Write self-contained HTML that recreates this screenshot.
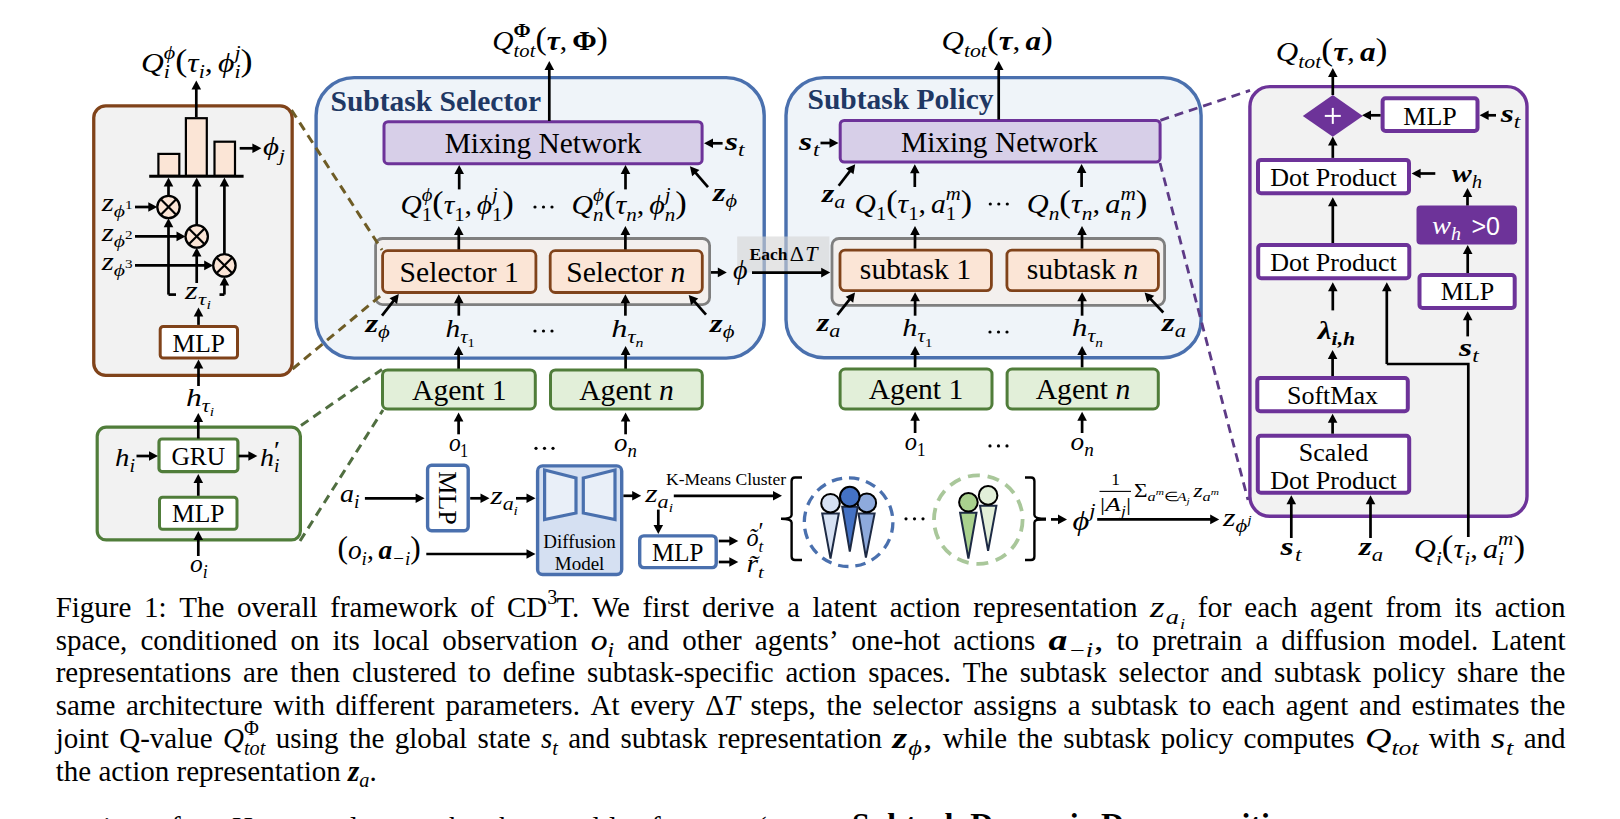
<!DOCTYPE html>
<html><head><meta charset="utf-8"><style>
html,body{margin:0;padding:0;background:#fff;width:1620px;height:819px;overflow:hidden}
svg{display:block}
</style></head><body>
<svg width="1620" height="819" viewBox="0 0 1620 819">
<rect x="0" y="0" width="1620" height="819" fill="#fff"/>
<rect x="93.75" y="105.85" width="198.40" height="269.50" rx="12" fill="#f2f2f2" stroke="#80431a" stroke-width="3.3"/>
<rect x="158.40" y="153.90" width="20.90" height="22.00" rx="0" fill="#fbe5d6" stroke="#000" stroke-width="2.2"/>
<rect x="185.90" y="118.20" width="20.90" height="57.70" rx="0" fill="#fbe5d6" stroke="#000" stroke-width="2.2"/>
<rect x="214.50" y="141.70" width="20.50" height="34.20" rx="0" fill="#fbe5d6" stroke="#000" stroke-width="2.2"/>
<line x1="149.20" y1="176.20" x2="243.60" y2="176.20" stroke="#000" stroke-width="3"/>
<line x1="196.30" y1="117.00" x2="196.30" y2="85.00" stroke="#000" stroke-width="2.7"/>
<polygon points="196.30,80.50 201.10,89.50 191.50,89.50" fill="#000"/>
<text transform="translate(141.00,71.50) scale(1.170,1)" font-size="27.00" font-style="italic" font-weight="normal" font-family="Liberation Serif" fill="#000">Q</text>
<text transform="translate(163.82,77.98) scale(1.170,1)" font-size="18.90" font-style="italic" font-weight="normal" font-family="Liberation Serif" fill="#000">i</text>
<text transform="translate(163.82,59.35) scale(1.170,1)" font-size="18.90" font-style="italic" font-weight="normal" font-family="Liberation Serif" fill="#000">ϕ</text>
<text transform="translate(175.27,70.56) scale(1.170,1)" font-size="31.05" font-style="normal" font-weight="normal" font-family="Liberation Serif" fill="#000">(</text>
<text transform="translate(187.37,71.50) scale(1.170,1)" font-size="27.00" font-style="italic" font-weight="normal" font-family="Liberation Serif" fill="#000">τ</text>
<text transform="translate(198.68,77.98) scale(1.170,1)" font-size="18.90" font-style="italic" font-weight="normal" font-family="Liberation Serif" fill="#000">i</text>
<text transform="translate(204.83,71.50) scale(1.170,1)" font-size="27.00" font-style="normal" font-weight="normal" font-family="Liberation Serif" fill="#000">,</text>
<text transform="translate(218.10,71.50) scale(1.170,1)" font-size="27.00" font-style="italic" font-weight="normal" font-family="Liberation Serif" fill="#000">ϕ</text>
<text transform="translate(234.45,77.98) scale(1.170,1)" font-size="18.90" font-style="italic" font-weight="normal" font-family="Liberation Serif" fill="#000">i</text>
<text transform="translate(234.45,59.35) scale(1.170,1)" font-size="18.90" font-style="italic" font-weight="normal" font-family="Liberation Serif" fill="#000">j</text>
<text transform="translate(240.60,70.56) scale(1.170,1)" font-size="31.05" font-style="normal" font-weight="normal" font-family="Liberation Serif" fill="#000">)</text>
<line x1="239.70" y1="148.30" x2="256.90" y2="148.30" stroke="#000" stroke-width="2.7"/>
<polygon points="261.40,148.30 252.40,153.10 252.40,143.50" fill="#000"/>
<text transform="translate(263.00,155.00) scale(1.236,1)" font-size="25.00" font-style="italic" font-weight="normal" font-family="Liberation Serif" fill="#000">ϕ</text>
<text transform="translate(278.99,161.00) scale(1.236,1)" font-size="17.50" font-style="italic" font-weight="normal" font-family="Liberation Serif" fill="#000">j</text>
<circle cx="168.5" cy="207" r="11.2" fill="#fbe5d6" stroke="#000" stroke-width="2.3"/>
<line x1="160.58" y1="199.08" x2="176.42" y2="214.92" stroke="#000" stroke-width="2.2"/>
<line x1="160.58" y1="214.92" x2="176.42" y2="199.08" stroke="#000" stroke-width="2.2"/>
<circle cx="196.7" cy="236.4" r="11.2" fill="#fbe5d6" stroke="#000" stroke-width="2.3"/>
<line x1="188.78" y1="228.48" x2="204.62" y2="244.32" stroke="#000" stroke-width="2.2"/>
<line x1="188.78" y1="244.32" x2="204.62" y2="228.48" stroke="#000" stroke-width="2.2"/>
<circle cx="224.4" cy="265.4" r="11.2" fill="#fbe5d6" stroke="#000" stroke-width="2.3"/>
<line x1="216.48" y1="257.48" x2="232.32" y2="273.32" stroke="#000" stroke-width="2.2"/>
<line x1="216.48" y1="273.32" x2="232.32" y2="257.48" stroke="#000" stroke-width="2.2"/>
<line x1="168.50" y1="195.80" x2="168.50" y2="182.00" stroke="#000" stroke-width="2.7"/>
<polygon points="168.50,177.50 173.30,186.50 163.70,186.50" fill="#000"/>
<line x1="196.70" y1="225.20" x2="196.70" y2="182.00" stroke="#000" stroke-width="2.7"/>
<polygon points="196.70,177.50 201.50,186.50 191.90,186.50" fill="#000"/>
<line x1="224.40" y1="254.20" x2="224.40" y2="182.00" stroke="#000" stroke-width="2.7"/>
<polygon points="224.40,177.50 229.20,186.50 219.60,186.50" fill="#000"/>
<line x1="135.00" y1="207.00" x2="152.80" y2="207.00" stroke="#000" stroke-width="2.7"/>
<polygon points="157.30,207.00 148.30,211.80 148.30,202.20" fill="#000"/>
<line x1="135.00" y1="236.40" x2="181.00" y2="236.40" stroke="#000" stroke-width="2.7"/>
<polygon points="185.50,236.40 176.50,241.20 176.50,231.60" fill="#000"/>
<line x1="135.00" y1="265.40" x2="208.70" y2="265.40" stroke="#000" stroke-width="2.7"/>
<polygon points="213.20,265.40 204.20,270.20 204.20,260.60" fill="#000"/>
<text transform="translate(101.80,210.60) scale(1.236,1)" font-size="25.00" font-style="italic" font-weight="normal" font-family="Liberation Serif" fill="#000">z</text>
<text transform="translate(113.83,216.60) scale(1.236,1)" font-size="17.50" font-style="italic" font-weight="normal" font-family="Liberation Serif" fill="#000">ϕ</text>
<text transform="translate(125.03,208.72) scale(1.236,1)" font-size="12.25" font-style="normal" font-weight="normal" font-family="Liberation Serif" fill="#000">1</text>
<text transform="translate(101.80,241.00) scale(1.236,1)" font-size="25.00" font-style="italic" font-weight="normal" font-family="Liberation Serif" fill="#000">z</text>
<text transform="translate(113.83,247.00) scale(1.236,1)" font-size="17.50" font-style="italic" font-weight="normal" font-family="Liberation Serif" fill="#000">ϕ</text>
<text transform="translate(125.03,239.12) scale(1.236,1)" font-size="12.25" font-style="normal" font-weight="normal" font-family="Liberation Serif" fill="#000">2</text>
<text transform="translate(101.80,270.00) scale(1.236,1)" font-size="25.00" font-style="italic" font-weight="normal" font-family="Liberation Serif" fill="#000">z</text>
<text transform="translate(113.83,276.00) scale(1.236,1)" font-size="17.50" font-style="italic" font-weight="normal" font-family="Liberation Serif" fill="#000">ϕ</text>
<text transform="translate(125.03,268.12) scale(1.236,1)" font-size="12.25" font-style="normal" font-weight="normal" font-family="Liberation Serif" fill="#000">3</text>
<polyline points="176.00,294.60 168.50,294.60" fill="none" stroke="#000" stroke-width="2.7"/>
<line x1="168.50" y1="294.60" x2="168.50" y2="222.70" stroke="#000" stroke-width="2.7"/>
<polygon points="168.50,218.20 173.30,227.20 163.70,227.20" fill="#000"/>
<line x1="196.70" y1="283.00" x2="196.70" y2="252.10" stroke="#000" stroke-width="2.7"/>
<polygon points="196.70,247.60 201.50,256.60 191.90,256.60" fill="#000"/>
<polyline points="219.50,294.60 224.40,294.60" fill="none" stroke="#000" stroke-width="2.7"/>
<line x1="224.40" y1="294.60" x2="224.40" y2="281.10" stroke="#000" stroke-width="2.7"/>
<polygon points="224.40,276.60 229.20,285.60 219.60,285.60" fill="#000"/>
<text transform="translate(185.00,299.00) scale(1.300,1)" font-size="25.00" font-style="italic" font-weight="normal" font-family="Liberation Serif" fill="#000">z</text>
<text transform="translate(198.00,305.00) scale(1.300,1)" font-size="17.50" font-style="italic" font-weight="normal" font-family="Liberation Serif" fill="#000">τ</text>
<text transform="translate(206.38,309.20) scale(1.300,1)" font-size="12.25" font-style="italic" font-weight="normal" font-family="Liberation Serif" fill="#000">i</text>
<rect x="160.20" y="326.40" width="77.30" height="31.60" rx="3" fill="#fff" stroke="#80431a" stroke-width="3"/>
<text x="198.80" y="351.50" font-size="25.50" font-style="normal" font-weight="normal" font-family="Liberation Serif" fill="#000" text-anchor="middle">MLP</text>
<line x1="198.50" y1="324.90" x2="198.50" y2="311.90" stroke="#000" stroke-width="2.7"/>
<polygon points="198.50,307.40 203.30,316.40 193.70,316.40" fill="#000"/>
<line x1="198.50" y1="386.00" x2="198.50" y2="364.00" stroke="#000" stroke-width="2.7"/>
<polygon points="198.50,359.50 203.30,368.50 193.70,368.50" fill="#000"/>
<text transform="translate(186.00,405.50) scale(1.215,1)" font-size="26.00" font-style="italic" font-weight="normal" font-family="Liberation Serif" fill="#000">h</text>
<text transform="translate(201.79,411.74) scale(1.215,1)" font-size="18.20" font-style="italic" font-weight="normal" font-family="Liberation Serif" fill="#000">τ</text>
<text transform="translate(209.70,416.11) scale(1.215,1)" font-size="12.74" font-style="italic" font-weight="normal" font-family="Liberation Serif" fill="#000">i</text>
<rect x="97.20" y="427.20" width="203.20" height="112.70" rx="9" fill="#f2f2f2" stroke="#507d3a" stroke-width="3.2"/>
<rect x="159.00" y="439.00" width="78.90" height="32.60" rx="3" fill="#fff" stroke="#507d3a" stroke-width="3.2"/>
<rect x="159.50" y="497.30" width="77.50" height="31.90" rx="3" fill="#fff" stroke="#507d3a" stroke-width="3"/>
<text x="198.30" y="464.60" font-size="25.50" font-style="normal" font-weight="normal" font-family="Liberation Serif" fill="#000" text-anchor="middle">GRU</text>
<text x="198.30" y="521.90" font-size="25.50" font-style="normal" font-weight="normal" font-family="Liberation Serif" fill="#000" text-anchor="middle">MLP</text>
<line x1="198.30" y1="438.50" x2="198.30" y2="417.50" stroke="#000" stroke-width="2.7"/>
<polygon points="198.30,413.00 203.10,422.00 193.50,422.00" fill="#000"/>
<line x1="198.30" y1="495.80" x2="198.30" y2="478.50" stroke="#000" stroke-width="2.7"/>
<polygon points="198.30,474.00 203.10,483.00 193.50,483.00" fill="#000"/>
<line x1="198.30" y1="556.00" x2="198.30" y2="535.50" stroke="#000" stroke-width="2.7"/>
<polygon points="198.30,531.00 203.10,540.00 193.50,540.00" fill="#000"/>
<line x1="136.50" y1="456.00" x2="153.50" y2="456.00" stroke="#000" stroke-width="2.7"/>
<polygon points="158.00,456.00 149.00,460.80 149.00,451.20" fill="#000"/>
<line x1="238.60" y1="456.00" x2="252.90" y2="456.00" stroke="#000" stroke-width="2.7"/>
<polygon points="257.40,456.00 248.40,460.80 248.40,451.20" fill="#000"/>
<text transform="translate(115.00,465.50) scale(1.108,1)" font-size="26.00" font-style="italic" font-weight="normal" font-family="Liberation Serif" fill="#000">h</text>
<text transform="translate(129.40,471.74) scale(1.108,1)" font-size="18.20" font-style="italic" font-weight="normal" font-family="Liberation Serif" fill="#000">i</text>
<text transform="translate(260.00,465.50) scale(1.077,1)" font-size="26.00" font-style="italic" font-weight="normal" font-family="Liberation Serif" fill="#000">h</text>
<text transform="translate(274.00,471.74) scale(1.077,1)" font-size="18.20" font-style="italic" font-weight="normal" font-family="Liberation Serif" fill="#000">i</text>
<text transform="translate(274.00,459.26) scale(1.077,1)" font-size="25.48" font-style="normal" font-weight="normal" font-family="Liberation Serif" fill="#000">′</text>
<text transform="translate(190.00,572.00) scale(0.980,1)" font-size="26.00" font-style="italic" font-weight="normal" font-family="Liberation Serif" fill="#000">o</text>
<text transform="translate(202.74,578.24) scale(0.980,1)" font-size="18.20" font-style="italic" font-weight="normal" font-family="Liberation Serif" fill="#000">i</text>
<rect x="316.10" y="77.60" width="448.10" height="280.50" rx="38" fill="#eff4f9" stroke="#4a70ae" stroke-width="3.4"/>
<text x="330.50" y="110.50" font-size="29.50" font-style="normal" font-weight="bold" font-family="Liberation Serif" fill="#1f3864">Subtask Selector</text>
<rect x="384.00" y="121.70" width="318.10" height="42.00" rx="4" fill="#d7cfe8" stroke="#6d3399" stroke-width="3"/>
<text x="543.00" y="152.50" font-size="29.40" font-style="normal" font-weight="normal" font-family="Liberation Serif" fill="#000" text-anchor="middle">Mixing Network</text>
<line x1="549.30" y1="121.00" x2="549.30" y2="65.50" stroke="#000" stroke-width="2.7"/>
<polygon points="549.30,61.00 554.10,70.00 544.50,70.00" fill="#000"/>
<text transform="translate(492.30,50.00) scale(1.053,1)" font-size="28.00" font-style="italic" font-weight="normal" font-family="Liberation Serif" fill="#000">Q</text>
<text transform="translate(513.60,56.72) scale(1.053,1)" font-size="19.60" font-style="italic" font-weight="normal" font-family="Liberation Serif" fill="#000">tot</text>
<text transform="translate(513.60,37.40) scale(1.053,1)" font-size="19.60" font-style="normal" font-weight="bold" font-family="Liberation Serif" fill="#000">Φ</text>
<text transform="translate(535.39,49.02) scale(1.053,1)" font-size="32.20" font-style="normal" font-weight="normal" font-family="Liberation Serif" fill="#000">(</text>
<text transform="translate(546.68,50.00) scale(1.053,1)" font-size="28.00" font-style="italic" font-weight="bold" font-family="Liberation Serif" fill="#000">τ</text>
<text transform="translate(559.77,50.00) scale(1.053,1)" font-size="28.00" font-style="normal" font-weight="normal" font-family="Liberation Serif" fill="#000">,</text>
<text transform="translate(572.16,50.00) scale(1.053,1)" font-size="28.00" font-style="normal" font-weight="bold" font-family="Liberation Serif" fill="#000">Φ</text>
<text transform="translate(596.61,49.02) scale(1.053,1)" font-size="32.20" font-style="normal" font-weight="normal" font-family="Liberation Serif" fill="#000">)</text>
<line x1="722.60" y1="143.30" x2="708.50" y2="143.30" stroke="#000" stroke-width="2.7"/>
<polygon points="704.00,143.30 713.00,138.50 713.00,148.10" fill="#000"/>
<text transform="translate(725.00,149.50) scale(1.292,1)" font-size="26.00" font-style="italic" font-weight="bold" font-family="Liberation Serif" fill="#000">s</text>
<text transform="translate(738.07,155.74) scale(1.292,1)" font-size="18.20" font-style="italic" font-weight="normal" font-family="Liberation Serif" fill="#000">t</text>
<line x1="708.00" y1="187.20" x2="692.85" y2="169.70" stroke="#000" stroke-width="2.7"/>
<polygon points="689.90,166.30 699.42,169.96 692.16,176.25" fill="#000"/>
<text transform="translate(713.00,201.00) scale(1.228,1)" font-size="26.00" font-style="italic" font-weight="bold" font-family="Liberation Serif" fill="#000">z</text>
<text transform="translate(725.43,207.24) scale(1.228,1)" font-size="18.20" font-style="italic" font-weight="normal" font-family="Liberation Serif" fill="#000">ϕ</text>
<line x1="459.20" y1="189.40" x2="459.20" y2="169.50" stroke="#000" stroke-width="2.7"/>
<polygon points="459.20,165.00 464.00,174.00 454.40,174.00" fill="#000"/>
<line x1="625.50" y1="189.40" x2="625.50" y2="169.50" stroke="#000" stroke-width="2.7"/>
<polygon points="625.50,165.00 630.30,174.00 620.70,174.00" fill="#000"/>
<text transform="translate(400.40,214.00) scale(1.052,1)" font-size="28.00" font-style="italic" font-weight="normal" font-family="Liberation Serif" fill="#000">Q</text>
<text transform="translate(421.68,220.72) scale(1.052,1)" font-size="19.60" font-style="normal" font-weight="normal" font-family="Liberation Serif" fill="#000">1</text>
<text transform="translate(421.68,201.40) scale(1.052,1)" font-size="19.60" font-style="italic" font-weight="normal" font-family="Liberation Serif" fill="#000">ϕ</text>
<text transform="translate(432.35,213.02) scale(1.052,1)" font-size="32.20" font-style="normal" font-weight="normal" font-family="Liberation Serif" fill="#000">(</text>
<text transform="translate(443.63,214.00) scale(1.052,1)" font-size="28.00" font-style="italic" font-weight="normal" font-family="Liberation Serif" fill="#000">τ</text>
<text transform="translate(454.17,220.72) scale(1.052,1)" font-size="19.60" font-style="normal" font-weight="normal" font-family="Liberation Serif" fill="#000">1</text>
<text transform="translate(464.49,214.00) scale(1.052,1)" font-size="28.00" font-style="normal" font-weight="normal" font-family="Liberation Serif" fill="#000">,</text>
<text transform="translate(476.86,214.00) scale(1.052,1)" font-size="28.00" font-style="italic" font-weight="normal" font-family="Liberation Serif" fill="#000">ϕ</text>
<text transform="translate(492.11,220.72) scale(1.052,1)" font-size="19.60" font-style="normal" font-weight="normal" font-family="Liberation Serif" fill="#000">1</text>
<text transform="translate(492.11,201.40) scale(1.052,1)" font-size="19.60" font-style="italic" font-weight="normal" font-family="Liberation Serif" fill="#000">j</text>
<text transform="translate(502.42,213.02) scale(1.052,1)" font-size="32.20" font-style="normal" font-weight="normal" font-family="Liberation Serif" fill="#000">)</text>
<text transform="translate(571.40,214.00) scale(1.072,1)" font-size="28.00" font-style="italic" font-weight="normal" font-family="Liberation Serif" fill="#000">Q</text>
<text transform="translate(593.07,220.72) scale(1.072,1)" font-size="19.60" font-style="italic" font-weight="normal" font-family="Liberation Serif" fill="#000">n</text>
<text transform="translate(593.07,201.40) scale(1.072,1)" font-size="19.60" font-style="italic" font-weight="normal" font-family="Liberation Serif" fill="#000">ϕ</text>
<text transform="translate(603.94,213.02) scale(1.072,1)" font-size="32.20" font-style="normal" font-weight="normal" font-family="Liberation Serif" fill="#000">(</text>
<text transform="translate(615.43,214.00) scale(1.072,1)" font-size="28.00" font-style="italic" font-weight="normal" font-family="Liberation Serif" fill="#000">τ</text>
<text transform="translate(626.17,220.72) scale(1.072,1)" font-size="19.60" font-style="italic" font-weight="normal" font-family="Liberation Serif" fill="#000">n</text>
<text transform="translate(636.67,214.00) scale(1.072,1)" font-size="28.00" font-style="normal" font-weight="normal" font-family="Liberation Serif" fill="#000">,</text>
<text transform="translate(649.28,214.00) scale(1.072,1)" font-size="28.00" font-style="italic" font-weight="normal" font-family="Liberation Serif" fill="#000">ϕ</text>
<text transform="translate(664.81,220.72) scale(1.072,1)" font-size="19.60" font-style="italic" font-weight="normal" font-family="Liberation Serif" fill="#000">n</text>
<text transform="translate(664.81,201.40) scale(1.072,1)" font-size="19.60" font-style="italic" font-weight="normal" font-family="Liberation Serif" fill="#000">j</text>
<text transform="translate(675.31,213.02) scale(1.072,1)" font-size="32.20" font-style="normal" font-weight="normal" font-family="Liberation Serif" fill="#000">)</text>
<circle cx="535.00" cy="207.00" r="1.6" fill="#000"/>
<circle cx="543.50" cy="207.00" r="1.6" fill="#000"/>
<circle cx="552.00" cy="207.00" r="1.6" fill="#000"/>
<rect x="375.60" y="238.50" width="334.00" height="66.10" rx="7" fill="#f3f0ee" stroke="#7f7f7f" stroke-width="2.8"/>
<line x1="458.80" y1="250.30" x2="458.80" y2="230.40" stroke="#000" stroke-width="2.7"/>
<polygon points="458.80,225.90 463.60,234.90 454.00,234.90" fill="#000"/>
<line x1="625.40" y1="250.30" x2="625.40" y2="230.40" stroke="#000" stroke-width="2.7"/>
<polygon points="625.40,225.90 630.20,234.90 620.60,234.90" fill="#000"/>
<rect x="382.60" y="250.70" width="153.30" height="41.80" rx="5" fill="#fbe5d6" stroke="#80431a" stroke-width="2.8"/>
<rect x="550.20" y="250.70" width="152.10" height="41.80" rx="5" fill="#fbe5d6" stroke="#80431a" stroke-width="2.8"/>
<text x="459.20" y="281.50" font-size="29.60" font-style="normal" font-weight="normal" font-family="Liberation Serif" fill="#000" text-anchor="middle">Selector 1</text>
<text x="566.21" y="281.50" font-size="29.60" font-style="normal" font-weight="normal" font-family="Liberation Serif" fill="#000">Selector </text>
<text x="670.59" y="281.50" font-size="29.60" font-style="italic" font-weight="normal" font-family="Liberation Serif" fill="#000">n</text>
<line x1="711.00" y1="272.40" x2="722.30" y2="272.40" stroke="#000" stroke-width="2.7"/>
<polygon points="726.80,272.40 717.80,277.20 717.80,267.60" fill="#000"/>
<line x1="382.00" y1="315.70" x2="396.05" y2="297.56" stroke="#000" stroke-width="2.7"/>
<polygon points="398.80,294.00 397.09,304.05 389.49,298.18" fill="#000"/>
<text transform="translate(365.40,331.50) scale(1.249,1)" font-size="26.00" font-style="italic" font-weight="bold" font-family="Liberation Serif" fill="#000">z</text>
<text transform="translate(378.04,337.74) scale(1.249,1)" font-size="18.20" font-style="italic" font-weight="normal" font-family="Liberation Serif" fill="#000">ϕ</text>
<line x1="706.00" y1="314.70" x2="691.67" y2="298.38" stroke="#000" stroke-width="2.7"/>
<polygon points="688.70,295.00 698.25,298.60 691.03,304.93" fill="#000"/>
<text transform="translate(710.00,332.00) scale(1.249,1)" font-size="26.00" font-style="italic" font-weight="bold" font-family="Liberation Serif" fill="#000">z</text>
<text transform="translate(722.64,338.24) scale(1.249,1)" font-size="18.20" font-style="italic" font-weight="normal" font-family="Liberation Serif" fill="#000">ϕ</text>
<line x1="458.80" y1="315.70" x2="458.80" y2="298.70" stroke="#000" stroke-width="2.7"/>
<polygon points="458.80,294.20 463.60,303.20 454.00,303.20" fill="#000"/>
<line x1="625.40" y1="315.70" x2="625.40" y2="298.70" stroke="#000" stroke-width="2.7"/>
<polygon points="625.40,294.20 630.20,303.20 620.60,303.20" fill="#000"/>
<text transform="translate(445.50,336.50) scale(1.132,1)" font-size="26.00" font-style="italic" font-weight="normal" font-family="Liberation Serif" fill="#000">h</text>
<text transform="translate(460.22,342.74) scale(1.132,1)" font-size="18.20" font-style="italic" font-weight="normal" font-family="Liberation Serif" fill="#000">τ</text>
<text transform="translate(467.59,347.11) scale(1.132,1)" font-size="12.74" font-style="normal" font-weight="normal" font-family="Liberation Serif" fill="#000">1</text>
<text transform="translate(611.30,336.50) scale(1.244,1)" font-size="26.00" font-style="italic" font-weight="normal" font-family="Liberation Serif" fill="#000">h</text>
<text transform="translate(627.47,342.74) scale(1.244,1)" font-size="18.20" font-style="italic" font-weight="normal" font-family="Liberation Serif" fill="#000">τ</text>
<text transform="translate(635.58,347.11) scale(1.244,1)" font-size="12.74" font-style="italic" font-weight="normal" font-family="Liberation Serif" fill="#000">n</text>
<circle cx="535.00" cy="331.00" r="1.6" fill="#000"/>
<circle cx="543.50" cy="331.00" r="1.6" fill="#000"/>
<circle cx="552.00" cy="331.00" r="1.6" fill="#000"/>
<line x1="458.60" y1="369.00" x2="458.60" y2="350.50" stroke="#000" stroke-width="2.7"/>
<polygon points="458.60,346.00 463.40,355.00 453.80,355.00" fill="#000"/>
<line x1="625.60" y1="369.00" x2="625.60" y2="350.50" stroke="#000" stroke-width="2.7"/>
<polygon points="625.60,346.00 630.40,355.00 620.80,355.00" fill="#000"/>
<rect x="382.50" y="369.90" width="152.80" height="39.10" rx="5" fill="#e2efd9" stroke="#507d3a" stroke-width="3"/>
<rect x="550.50" y="369.90" width="151.80" height="39.10" rx="5" fill="#e2efd9" stroke="#507d3a" stroke-width="3"/>
<text x="459.30" y="400.10" font-size="29.60" font-style="normal" font-weight="normal" font-family="Liberation Serif" fill="#000" text-anchor="middle">Agent 1</text>
<text x="579.23" y="400.10" font-size="29.60" font-style="normal" font-weight="normal" font-family="Liberation Serif" fill="#000">Agent </text>
<text x="658.97" y="400.10" font-size="29.60" font-style="italic" font-weight="normal" font-family="Liberation Serif" fill="#000">n</text>
<line x1="458.60" y1="434.30" x2="458.60" y2="416.90" stroke="#000" stroke-width="2.7"/>
<polygon points="458.60,412.40 463.40,421.40 453.80,421.40" fill="#000"/>
<line x1="625.60" y1="434.30" x2="625.60" y2="416.90" stroke="#000" stroke-width="2.7"/>
<polygon points="625.60,412.40 630.40,421.40 620.80,421.40" fill="#000"/>
<text transform="translate(448.90,450.50) scale(0.900,1)" font-size="26.00" font-style="italic" font-weight="normal" font-family="Liberation Serif" fill="#000">o</text>
<text transform="translate(460.11,456.74) scale(0.900,1)" font-size="18.20" font-style="normal" font-weight="normal" font-family="Liberation Serif" fill="#000">1</text>
<text transform="translate(614.00,450.50) scale(1.032,1)" font-size="26.00" font-style="italic" font-weight="normal" font-family="Liberation Serif" fill="#000">o</text>
<text transform="translate(627.41,456.74) scale(1.032,1)" font-size="18.20" font-style="italic" font-weight="normal" font-family="Liberation Serif" fill="#000">n</text>
<circle cx="536.00" cy="448.30" r="1.6" fill="#000"/>
<circle cx="544.50" cy="448.30" r="1.6" fill="#000"/>
<circle cx="553.00" cy="448.30" r="1.6" fill="#000"/>
<rect x="786.00" y="77.60" width="415.10" height="280.10" rx="38" fill="#eff4f9" stroke="#4a70ae" stroke-width="3.4"/>
<rect x="737.2" y="236.5" width="92.2" height="36" fill="#d4d4d4" fill-opacity="0.6"/>
<text x="749.50" y="259.70" font-size="17.50" font-style="normal" font-weight="bold" font-family="Liberation Serif" fill="#000">Each</text>
<text x="789.70" y="260.50" font-size="22.00" font-style="normal" font-weight="normal" font-family="Liberation Serif" fill="#000">Δ</text>
<text x="805.20" y="260.50" font-size="22.00" font-style="italic" font-weight="normal" font-family="Liberation Serif" fill="#000">T</text>
<text x="733.00" y="279.00" font-size="28.00" font-style="italic" font-weight="normal" font-family="Liberation Serif" fill="#000">ϕ</text>
<text x="807.50" y="108.50" font-size="29.50" font-style="normal" font-weight="bold" font-family="Liberation Serif" fill="#1f3864">Subtask Policy</text>
<rect x="840.20" y="120.50" width="319.90" height="41.50" rx="4" fill="#d7cfe8" stroke="#6d3399" stroke-width="3"/>
<text x="999.40" y="151.80" font-size="29.40" font-style="normal" font-weight="normal" font-family="Liberation Serif" fill="#000" text-anchor="middle">Mixing Network</text>
<line x1="998.70" y1="119.60" x2="998.70" y2="65.50" stroke="#000" stroke-width="2.7"/>
<polygon points="998.70,61.00 1003.50,70.00 993.90,70.00" fill="#000"/>
<text transform="translate(941.50,50.00) scale(1.108,1)" font-size="28.00" font-style="italic" font-weight="normal" font-family="Liberation Serif" fill="#000">Q</text>
<text transform="translate(963.90,56.72) scale(1.108,1)" font-size="19.60" font-style="italic" font-weight="normal" font-family="Liberation Serif" fill="#000">tot</text>
<text transform="translate(986.83,49.02) scale(1.108,1)" font-size="32.20" font-style="normal" font-weight="normal" font-family="Liberation Serif" fill="#000">(</text>
<text transform="translate(998.71,50.00) scale(1.108,1)" font-size="28.00" font-style="italic" font-weight="bold" font-family="Liberation Serif" fill="#000">τ</text>
<text transform="translate(1012.48,50.00) scale(1.108,1)" font-size="28.00" font-style="normal" font-weight="normal" font-family="Liberation Serif" fill="#000">,</text>
<text transform="translate(1025.51,50.00) scale(1.108,1)" font-size="28.00" font-style="italic" font-weight="bold" font-family="Liberation Serif" fill="#000">a</text>
<text transform="translate(1041.02,49.02) scale(1.108,1)" font-size="32.20" font-style="normal" font-weight="normal" font-family="Liberation Serif" fill="#000">)</text>
<line x1="820.50" y1="143.00" x2="834.00" y2="143.00" stroke="#000" stroke-width="2.7"/>
<polygon points="838.50,143.00 829.50,147.80 829.50,138.20" fill="#000"/>
<text transform="translate(798.90,149.50) scale(1.300,1)" font-size="26.00" font-style="italic" font-weight="bold" font-family="Liberation Serif" fill="#000">s</text>
<text transform="translate(813.03,155.74) scale(1.300,1)" font-size="18.20" font-style="italic" font-weight="normal" font-family="Liberation Serif" fill="#000">t</text>
<line x1="838.70" y1="185.70" x2="852.45" y2="167.86" stroke="#000" stroke-width="2.7"/>
<polygon points="855.20,164.30 853.51,174.36 845.90,168.50" fill="#000"/>
<text transform="translate(822.00,202.00) scale(1.212,1)" font-size="26.00" font-style="italic" font-weight="bold" font-family="Liberation Serif" fill="#000">z</text>
<text transform="translate(834.27,208.24) scale(1.212,1)" font-size="18.20" font-style="italic" font-weight="normal" font-family="Liberation Serif" fill="#000">a</text>
<line x1="914.80" y1="187.00" x2="914.80" y2="168.80" stroke="#000" stroke-width="2.7"/>
<polygon points="914.80,164.30 919.60,173.30 910.00,173.30" fill="#000"/>
<line x1="1081.60" y1="187.00" x2="1081.60" y2="168.50" stroke="#000" stroke-width="2.7"/>
<polygon points="1081.60,164.00 1086.40,173.00 1076.80,173.00" fill="#000"/>
<text transform="translate(854.60,213.00) scale(1.056,1)" font-size="28.00" font-style="italic" font-weight="normal" font-family="Liberation Serif" fill="#000">Q</text>
<text transform="translate(875.95,219.72) scale(1.056,1)" font-size="19.60" font-style="normal" font-weight="normal" font-family="Liberation Serif" fill="#000">1</text>
<text transform="translate(886.29,212.02) scale(1.056,1)" font-size="32.20" font-style="normal" font-weight="normal" font-family="Liberation Serif" fill="#000">(</text>
<text transform="translate(897.61,213.00) scale(1.056,1)" font-size="28.00" font-style="italic" font-weight="normal" font-family="Liberation Serif" fill="#000">τ</text>
<text transform="translate(908.19,219.72) scale(1.056,1)" font-size="19.60" font-style="normal" font-weight="normal" font-family="Liberation Serif" fill="#000">1</text>
<text transform="translate(918.54,213.00) scale(1.056,1)" font-size="28.00" font-style="normal" font-weight="normal" font-family="Liberation Serif" fill="#000">,</text>
<text transform="translate(930.96,213.00) scale(1.056,1)" font-size="28.00" font-style="italic" font-weight="normal" font-family="Liberation Serif" fill="#000">a</text>
<text transform="translate(945.74,219.72) scale(1.056,1)" font-size="19.60" font-style="normal" font-weight="normal" font-family="Liberation Serif" fill="#000">1</text>
<text transform="translate(945.74,200.40) scale(1.056,1)" font-size="19.60" font-style="italic" font-weight="normal" font-family="Liberation Serif" fill="#000">m</text>
<text transform="translate(960.68,212.02) scale(1.056,1)" font-size="32.20" font-style="normal" font-weight="normal" font-family="Liberation Serif" fill="#000">)</text>
<text transform="translate(1026.80,213.00) scale(1.085,1)" font-size="28.00" font-style="italic" font-weight="normal" font-family="Liberation Serif" fill="#000">Q</text>
<text transform="translate(1048.73,219.72) scale(1.085,1)" font-size="19.60" font-style="italic" font-weight="normal" font-family="Liberation Serif" fill="#000">n</text>
<text transform="translate(1059.36,212.02) scale(1.085,1)" font-size="32.20" font-style="normal" font-weight="normal" font-family="Liberation Serif" fill="#000">(</text>
<text transform="translate(1070.99,213.00) scale(1.085,1)" font-size="28.00" font-style="italic" font-weight="normal" font-family="Liberation Serif" fill="#000">τ</text>
<text transform="translate(1081.86,219.72) scale(1.085,1)" font-size="19.60" font-style="italic" font-weight="normal" font-family="Liberation Serif" fill="#000">n</text>
<text transform="translate(1092.48,213.00) scale(1.085,1)" font-size="28.00" font-style="normal" font-weight="normal" font-family="Liberation Serif" fill="#000">,</text>
<text transform="translate(1105.24,213.00) scale(1.085,1)" font-size="28.00" font-style="italic" font-weight="normal" font-family="Liberation Serif" fill="#000">a</text>
<text transform="translate(1120.42,219.72) scale(1.085,1)" font-size="19.60" font-style="italic" font-weight="normal" font-family="Liberation Serif" fill="#000">n</text>
<text transform="translate(1120.42,200.40) scale(1.085,1)" font-size="19.60" font-style="italic" font-weight="normal" font-family="Liberation Serif" fill="#000">m</text>
<text transform="translate(1135.77,212.02) scale(1.085,1)" font-size="32.20" font-style="normal" font-weight="normal" font-family="Liberation Serif" fill="#000">)</text>
<circle cx="990.30" cy="204.00" r="1.6" fill="#000"/>
<circle cx="998.80" cy="204.00" r="1.6" fill="#000"/>
<circle cx="1007.30" cy="204.00" r="1.6" fill="#000"/>
<rect x="832.00" y="238.50" width="332.60" height="66.80" rx="7" fill="#f3f0ee" stroke="#7f7f7f" stroke-width="2.8"/>
<line x1="915.00" y1="248.70" x2="915.00" y2="230.50" stroke="#000" stroke-width="2.7"/>
<polygon points="915.00,226.00 919.80,235.00 910.20,235.00" fill="#000"/>
<line x1="1082.00" y1="248.70" x2="1082.00" y2="230.50" stroke="#000" stroke-width="2.7"/>
<polygon points="1082.00,226.00 1086.80,235.00 1077.20,235.00" fill="#000"/>
<line x1="752.00" y1="272.60" x2="825.70" y2="272.60" stroke="#000" stroke-width="2.7"/>
<polygon points="830.20,272.60 821.20,277.40 821.20,267.80" fill="#000"/>
<rect x="840.00" y="250.10" width="151.40" height="40.50" rx="5" fill="#fbe5d6" stroke="#80431a" stroke-width="2.8"/>
<rect x="1006.90" y="250.10" width="151.50" height="40.50" rx="5" fill="#fbe5d6" stroke="#80431a" stroke-width="2.8"/>
<text x="915.50" y="278.50" font-size="29.70" font-style="normal" font-weight="normal" font-family="Liberation Serif" fill="#000" text-anchor="middle">subtask 1</text>
<text x="1026.81" y="278.50" font-size="29.70" font-style="normal" font-weight="normal" font-family="Liberation Serif" fill="#000">subtask </text>
<text x="1123.34" y="278.50" font-size="29.70" font-style="italic" font-weight="normal" font-family="Liberation Serif" fill="#000">n</text>
<line x1="837.40" y1="314.80" x2="852.20" y2="296.13" stroke="#000" stroke-width="2.7"/>
<polygon points="855.00,292.60 853.17,302.63 845.65,296.67" fill="#000"/>
<text transform="translate(817.00,330.50) scale(1.212,1)" font-size="26.00" font-style="italic" font-weight="bold" font-family="Liberation Serif" fill="#000">z</text>
<text transform="translate(829.27,336.74) scale(1.212,1)" font-size="18.20" font-style="italic" font-weight="normal" font-family="Liberation Serif" fill="#000">a</text>
<line x1="1163.30" y1="312.50" x2="1147.68" y2="295.88" stroke="#000" stroke-width="2.7"/>
<polygon points="1144.60,292.60 1154.26,295.87 1147.27,302.45" fill="#000"/>
<text transform="translate(1162.00,330.50) scale(1.249,1)" font-size="26.00" font-style="italic" font-weight="bold" font-family="Liberation Serif" fill="#000">z</text>
<text transform="translate(1174.64,336.74) scale(1.249,1)" font-size="18.20" font-style="italic" font-weight="normal" font-family="Liberation Serif" fill="#000">a</text>
<line x1="915.10" y1="315.70" x2="915.10" y2="296.80" stroke="#000" stroke-width="2.7"/>
<polygon points="915.10,292.30 919.90,301.30 910.30,301.30" fill="#000"/>
<line x1="1082.10" y1="315.70" x2="1082.10" y2="296.80" stroke="#000" stroke-width="2.7"/>
<polygon points="1082.10,292.30 1086.90,301.30 1077.30,301.30" fill="#000"/>
<text transform="translate(902.30,336.00) scale(1.167,1)" font-size="26.00" font-style="italic" font-weight="normal" font-family="Liberation Serif" fill="#000">h</text>
<text transform="translate(917.47,342.24) scale(1.167,1)" font-size="18.20" font-style="italic" font-weight="normal" font-family="Liberation Serif" fill="#000">τ</text>
<text transform="translate(925.07,346.61) scale(1.167,1)" font-size="12.74" font-style="normal" font-weight="normal" font-family="Liberation Serif" fill="#000">1</text>
<text transform="translate(1071.70,336.00) scale(1.209,1)" font-size="26.00" font-style="italic" font-weight="normal" font-family="Liberation Serif" fill="#000">h</text>
<text transform="translate(1087.42,342.24) scale(1.209,1)" font-size="18.20" font-style="italic" font-weight="normal" font-family="Liberation Serif" fill="#000">τ</text>
<text transform="translate(1095.30,346.61) scale(1.209,1)" font-size="12.74" font-style="italic" font-weight="normal" font-family="Liberation Serif" fill="#000">n</text>
<circle cx="990.00" cy="332.00" r="1.6" fill="#000"/>
<circle cx="998.50" cy="332.00" r="1.6" fill="#000"/>
<circle cx="1007.00" cy="332.00" r="1.6" fill="#000"/>
<line x1="915.10" y1="367.50" x2="915.10" y2="350.50" stroke="#000" stroke-width="2.7"/>
<polygon points="915.10,346.00 919.90,355.00 910.30,355.00" fill="#000"/>
<line x1="1082.10" y1="367.50" x2="1082.10" y2="350.50" stroke="#000" stroke-width="2.7"/>
<polygon points="1082.10,346.00 1086.90,355.00 1077.30,355.00" fill="#000"/>
<rect x="840.10" y="369.00" width="151.90" height="39.90" rx="5" fill="#e2efd9" stroke="#507d3a" stroke-width="3"/>
<rect x="1007.10" y="369.00" width="151.20" height="39.90" rx="5" fill="#e2efd9" stroke="#507d3a" stroke-width="3"/>
<text x="916.00" y="399.00" font-size="29.60" font-style="normal" font-weight="normal" font-family="Liberation Serif" fill="#000" text-anchor="middle">Agent 1</text>
<text x="1035.73" y="399.00" font-size="29.60" font-style="normal" font-weight="normal" font-family="Liberation Serif" fill="#000">Agent </text>
<text x="1115.47" y="399.00" font-size="29.60" font-style="italic" font-weight="normal" font-family="Liberation Serif" fill="#000">n</text>
<line x1="915.10" y1="433.00" x2="915.10" y2="416.30" stroke="#000" stroke-width="2.7"/>
<polygon points="915.10,411.80 919.90,420.80 910.30,420.80" fill="#000"/>
<line x1="1082.10" y1="433.00" x2="1082.10" y2="416.30" stroke="#000" stroke-width="2.7"/>
<polygon points="1082.10,411.80 1086.90,420.80 1077.30,420.80" fill="#000"/>
<text transform="translate(904.70,449.50) scale(0.941,1)" font-size="26.00" font-style="italic" font-weight="normal" font-family="Liberation Serif" fill="#000">o</text>
<text transform="translate(916.94,455.74) scale(0.941,1)" font-size="18.20" font-style="normal" font-weight="normal" font-family="Liberation Serif" fill="#000">1</text>
<text transform="translate(1070.50,449.50) scale(1.050,1)" font-size="26.00" font-style="italic" font-weight="normal" font-family="Liberation Serif" fill="#000">o</text>
<text transform="translate(1084.15,455.74) scale(1.050,1)" font-size="18.20" font-style="italic" font-weight="normal" font-family="Liberation Serif" fill="#000">n</text>
<circle cx="990.00" cy="445.90" r="1.6" fill="#000"/>
<circle cx="998.50" cy="445.90" r="1.6" fill="#000"/>
<circle cx="1007.00" cy="445.90" r="1.6" fill="#000"/>
<rect x="1249.90" y="86.60" width="277.10" height="429.70" rx="20" fill="#f2f2f2" stroke="#6d3399" stroke-width="3.4"/>
<text transform="translate(1275.80,61.00) scale(1.111,1)" font-size="28.00" font-style="italic" font-weight="normal" font-family="Liberation Serif" fill="#000">Q</text>
<text transform="translate(1298.26,67.72) scale(1.111,1)" font-size="19.60" font-style="italic" font-weight="normal" font-family="Liberation Serif" fill="#000">tot</text>
<text transform="translate(1321.25,60.02) scale(1.111,1)" font-size="32.20" font-style="normal" font-weight="normal" font-family="Liberation Serif" fill="#000">(</text>
<text transform="translate(1333.16,61.00) scale(1.111,1)" font-size="28.00" font-style="italic" font-weight="bold" font-family="Liberation Serif" fill="#000">τ</text>
<text transform="translate(1346.97,61.00) scale(1.111,1)" font-size="28.00" font-style="normal" font-weight="normal" font-family="Liberation Serif" fill="#000">,</text>
<text transform="translate(1360.03,61.00) scale(1.111,1)" font-size="28.00" font-style="italic" font-weight="bold" font-family="Liberation Serif" fill="#000">a</text>
<text transform="translate(1375.59,60.02) scale(1.111,1)" font-size="32.20" font-style="normal" font-weight="normal" font-family="Liberation Serif" fill="#000">)</text>
<line x1="1332.80" y1="95.00" x2="1332.80" y2="72.50" stroke="#000" stroke-width="2.7"/>
<polygon points="1332.80,68.00 1337.60,77.00 1328.00,77.00" fill="#000"/>
<polygon points="1332.8,95 1362.8,115.9 1332.8,136.8 1302.8,115.9" fill="#6d3399"/>
<line x1="1324.80" y1="115.90" x2="1340.80" y2="115.90" stroke="#fff" stroke-width="2"/>
<line x1="1332.80" y1="107.90" x2="1332.80" y2="123.90" stroke="#fff" stroke-width="2"/>
<rect x="1382.60" y="98.30" width="94.90" height="32.70" rx="3" fill="#fff" stroke="#6d3399" stroke-width="4"/>
<text x="1430.00" y="124.70" font-size="26.00" font-style="normal" font-weight="normal" font-family="Liberation Serif" fill="#000" text-anchor="middle">MLP</text>
<line x1="1380.60" y1="115.30" x2="1366.50" y2="115.30" stroke="#000" stroke-width="2.7"/>
<polygon points="1362.00,115.30 1371.00,110.50 1371.00,120.10" fill="#000"/>
<line x1="1496.00" y1="115.30" x2="1484.10" y2="115.30" stroke="#000" stroke-width="2.7"/>
<polygon points="1479.60,115.30 1488.60,110.50 1488.60,120.10" fill="#000"/>
<text transform="translate(1500.70,121.50) scale(1.292,1)" font-size="26.00" font-style="italic" font-weight="bold" font-family="Liberation Serif" fill="#000">s</text>
<text transform="translate(1513.77,127.74) scale(1.292,1)" font-size="18.20" font-style="italic" font-weight="normal" font-family="Liberation Serif" fill="#000">t</text>
<rect x="1258.00" y="159.90" width="151.00" height="33.30" rx="3" fill="#fff" stroke="#6d3399" stroke-width="4"/>
<text x="1333.50" y="185.50" font-size="26.00" font-style="normal" font-weight="normal" font-family="Liberation Serif" fill="#000" text-anchor="middle">Dot Product</text>
<line x1="1332.80" y1="157.90" x2="1332.80" y2="140.90" stroke="#000" stroke-width="2.7"/>
<polygon points="1332.80,136.40 1337.60,145.40 1328.00,145.40" fill="#000"/>
<line x1="1435.30" y1="173.50" x2="1416.10" y2="173.50" stroke="#000" stroke-width="2.7"/>
<polygon points="1411.60,173.50 1420.60,168.70 1420.60,178.30" fill="#000"/>
<text transform="translate(1452.00,182.00) scale(1.135,1)" font-size="26.00" font-style="italic" font-weight="bold" font-family="Liberation Serif" fill="#000">w</text>
<text transform="translate(1471.68,188.24) scale(1.135,1)" font-size="18.20" font-style="italic" font-weight="normal" font-family="Liberation Serif" fill="#000">h</text>
<line x1="1467.50" y1="205.70" x2="1467.50" y2="192.50" stroke="#000" stroke-width="2.7"/>
<polygon points="1467.50,188.00 1472.30,197.00 1462.70,197.00" fill="#000"/>
<rect x="1416.50" y="205.60" width="100.60" height="38.80" rx="4" fill="#6d3399" stroke="none" stroke-width="0"/>
<text transform="translate(1432.00,233.50) scale(1.097,1)" font-size="26.00" font-style="italic" font-weight="normal" font-family="Liberation Serif" fill="#fff">w</text>
<text transform="translate(1451.02,239.74) scale(1.097,1)" font-size="18.20" font-style="italic" font-weight="normal" font-family="Liberation Serif" fill="#fff">h</text>
<text x="1471.50" y="235.00" font-size="25.00" font-style="normal" font-weight="normal" font-family="Liberation Sans" fill="#fff">&gt;0</text>
<rect x="1258.20" y="245.00" width="151.10" height="33.30" rx="3" fill="#fff" stroke="#6d3399" stroke-width="4"/>
<text x="1333.50" y="271.00" font-size="26.00" font-style="normal" font-weight="normal" font-family="Liberation Serif" fill="#000" text-anchor="middle">Dot Product</text>
<line x1="1332.80" y1="243.00" x2="1332.80" y2="201.80" stroke="#000" stroke-width="2.7"/>
<polygon points="1332.80,197.30 1337.60,206.30 1328.00,206.30" fill="#000"/>
<line x1="1332.80" y1="310.40" x2="1332.80" y2="286.70" stroke="#000" stroke-width="2.7"/>
<polygon points="1332.80,282.20 1337.60,291.20 1328.00,291.20" fill="#000"/>
<text transform="translate(1317.80,339.00) scale(1.196,1)" font-size="26.00" font-style="italic" font-weight="bold" font-family="Liberation Serif" fill="#000">λ</text>
<text transform="translate(1331.60,345.24) scale(1.196,1)" font-size="18.20" font-style="italic" font-weight="bold" font-family="Liberation Serif" fill="#000">i,h</text>
<line x1="1332.60" y1="376.00" x2="1332.60" y2="354.50" stroke="#000" stroke-width="2.7"/>
<polygon points="1332.60,350.00 1337.40,359.00 1327.80,359.00" fill="#000"/>
<rect x="1419.50" y="275.00" width="95.20" height="33.00" rx="3" fill="#fff" stroke="#6d3399" stroke-width="4"/>
<text x="1467.50" y="300.00" font-size="26.00" font-style="normal" font-weight="normal" font-family="Liberation Serif" fill="#000" text-anchor="middle">MLP</text>
<line x1="1467.70" y1="273.00" x2="1467.70" y2="249.50" stroke="#000" stroke-width="2.7"/>
<polygon points="1467.70,245.00 1472.50,254.00 1462.90,254.00" fill="#000"/>
<line x1="1467.70" y1="336.40" x2="1467.70" y2="315.70" stroke="#000" stroke-width="2.7"/>
<polygon points="1467.70,311.20 1472.50,320.20 1462.90,320.20" fill="#000"/>
<text transform="translate(1459.00,355.50) scale(1.298,1)" font-size="26.00" font-style="italic" font-weight="bold" font-family="Liberation Serif" fill="#000">s</text>
<text transform="translate(1472.14,361.74) scale(1.298,1)" font-size="18.20" font-style="italic" font-weight="normal" font-family="Liberation Serif" fill="#000">t</text>
<rect x="1257.30" y="378.10" width="150.50" height="33.10" rx="3" fill="#fff" stroke="#6d3399" stroke-width="4"/>
<text x="1332.50" y="403.50" font-size="26.00" font-style="normal" font-weight="normal" font-family="Liberation Serif" fill="#000" text-anchor="middle">SoftMax</text>
<rect x="1257.80" y="435.70" width="151.40" height="57.00" rx="3" fill="#fff" stroke="#6d3399" stroke-width="4"/>
<text x="1333.50" y="460.50" font-size="26.00" font-style="normal" font-weight="normal" font-family="Liberation Serif" fill="#000" text-anchor="middle">Scaled</text>
<text x="1333.50" y="488.50" font-size="26.00" font-style="normal" font-weight="normal" font-family="Liberation Serif" fill="#000" text-anchor="middle">Dot Product</text>
<line x1="1332.60" y1="433.70" x2="1332.60" y2="418.30" stroke="#000" stroke-width="2.7"/>
<polygon points="1332.60,413.80 1337.40,422.80 1327.80,422.80" fill="#000"/>
<line x1="1291.30" y1="538.00" x2="1291.30" y2="499.70" stroke="#000" stroke-width="2.7"/>
<polygon points="1291.30,495.20 1296.10,504.20 1286.50,504.20" fill="#000"/>
<line x1="1370.50" y1="538.00" x2="1370.50" y2="499.70" stroke="#000" stroke-width="2.7"/>
<polygon points="1370.50,495.20 1375.30,504.20 1365.70,504.20" fill="#000"/>
<polyline points="1468.30,537.00 1468.30,364.00 1386.80,364.00" fill="none" stroke="#000" stroke-width="2.7"/>
<line x1="1386.80" y1="364.00" x2="1386.80" y2="286.70" stroke="#000" stroke-width="2.7"/>
<polygon points="1386.80,282.20 1391.60,291.20 1382.00,291.20" fill="#000"/>
<text transform="translate(1280.60,555.00) scale(1.300,1)" font-size="26.00" font-style="italic" font-weight="bold" font-family="Liberation Serif" fill="#000">s</text>
<text transform="translate(1295.03,561.24) scale(1.300,1)" font-size="18.20" font-style="italic" font-weight="normal" font-family="Liberation Serif" fill="#000">t</text>
<text transform="translate(1359.00,555.00) scale(1.249,1)" font-size="26.00" font-style="italic" font-weight="bold" font-family="Liberation Serif" fill="#000">z</text>
<text transform="translate(1371.64,561.24) scale(1.249,1)" font-size="18.20" font-style="italic" font-weight="normal" font-family="Liberation Serif" fill="#000">a</text>
<text transform="translate(1414.00,558.00) scale(1.083,1)" font-size="28.00" font-style="italic" font-weight="normal" font-family="Liberation Serif" fill="#000">Q</text>
<text transform="translate(1435.90,564.72) scale(1.083,1)" font-size="19.60" font-style="italic" font-weight="normal" font-family="Liberation Serif" fill="#000">i</text>
<text transform="translate(1441.80,557.02) scale(1.083,1)" font-size="32.20" font-style="normal" font-weight="normal" font-family="Liberation Serif" fill="#000">(</text>
<text transform="translate(1453.41,558.00) scale(1.083,1)" font-size="28.00" font-style="italic" font-weight="normal" font-family="Liberation Serif" fill="#000">τ</text>
<text transform="translate(1464.26,564.72) scale(1.083,1)" font-size="19.60" font-style="italic" font-weight="normal" font-family="Liberation Serif" fill="#000">i</text>
<text transform="translate(1470.16,558.00) scale(1.083,1)" font-size="28.00" font-style="normal" font-weight="normal" font-family="Liberation Serif" fill="#000">,</text>
<text transform="translate(1482.90,558.00) scale(1.083,1)" font-size="28.00" font-style="italic" font-weight="normal" font-family="Liberation Serif" fill="#000">a</text>
<text transform="translate(1498.06,564.72) scale(1.083,1)" font-size="19.60" font-style="italic" font-weight="normal" font-family="Liberation Serif" fill="#000">i</text>
<text transform="translate(1498.06,545.40) scale(1.083,1)" font-size="19.60" font-style="italic" font-weight="normal" font-family="Liberation Serif" fill="#000">m</text>
<text transform="translate(1513.39,557.02) scale(1.083,1)" font-size="32.20" font-style="normal" font-weight="normal" font-family="Liberation Serif" fill="#000">)</text>
<text transform="translate(340.00,502.00) scale(1.074,1)" font-size="26.00" font-style="italic" font-weight="normal" font-family="Liberation Serif" fill="#000">a</text>
<text transform="translate(353.97,508.24) scale(1.074,1)" font-size="18.20" font-style="italic" font-weight="normal" font-family="Liberation Serif" fill="#000">i</text>
<line x1="364.90" y1="498.30" x2="420.10" y2="498.30" stroke="#000" stroke-width="2.7"/>
<polygon points="424.60,498.30 415.60,503.10 415.60,493.50" fill="#000"/>
<rect x="427.60" y="465.20" width="40.60" height="65.60" rx="4" fill="#fff" stroke="#4a70ae" stroke-width="3.4"/>
<text x="0" y="0" font-size="26" font-family="Liberation Serif" fill="#000" text-anchor="middle" transform="translate(438.5,498) rotate(90)">MLP</text>
<line x1="470.20" y1="498.30" x2="485.00" y2="498.30" stroke="#000" stroke-width="2.7"/>
<polygon points="489.50,498.30 480.50,503.10 480.50,493.50" fill="#000"/>
<text transform="translate(490.40,504.00) scale(1.208,1)" font-size="26.00" font-style="italic" font-weight="normal" font-family="Liberation Serif" fill="#000">z</text>
<text transform="translate(502.63,510.24) scale(1.208,1)" font-size="18.20" font-style="italic" font-weight="normal" font-family="Liberation Serif" fill="#000">a</text>
<text transform="translate(513.62,514.61) scale(1.208,1)" font-size="12.74" font-style="italic" font-weight="normal" font-family="Liberation Serif" fill="#000">i</text>
<line x1="516.00" y1="498.30" x2="531.00" y2="498.30" stroke="#000" stroke-width="2.7"/>
<polygon points="535.50,498.30 526.50,503.10 526.50,493.50" fill="#000"/>
<text transform="translate(337.40,558.05) scale(1.014,1)" font-size="31.05" font-style="normal" font-weight="normal" font-family="Liberation Serif" fill="#000">(</text>
<text transform="translate(347.88,559.00) scale(1.014,1)" font-size="27.00" font-style="italic" font-weight="normal" font-family="Liberation Serif" fill="#000">o</text>
<text transform="translate(361.57,565.48) scale(1.014,1)" font-size="18.90" font-style="italic" font-weight="normal" font-family="Liberation Serif" fill="#000">i</text>
<text transform="translate(366.89,559.00) scale(1.014,1)" font-size="27.00" font-style="normal" font-weight="normal" font-family="Liberation Serif" fill="#000">,</text>
<text transform="translate(378.38,559.00) scale(1.014,1)" font-size="27.00" font-style="italic" font-weight="bold" font-family="Liberation Serif" fill="#000">a</text>
<text transform="translate(392.07,565.48) scale(1.014,1)" font-size="18.90" font-style="italic" font-weight="normal" font-family="Liberation Serif" fill="#000">−i</text>
<text transform="translate(410.32,558.05) scale(1.014,1)" font-size="31.05" font-style="normal" font-weight="normal" font-family="Liberation Serif" fill="#000">)</text>
<line x1="426.30" y1="554.00" x2="531.00" y2="554.00" stroke="#000" stroke-width="2.7"/>
<polygon points="535.50,554.00 526.50,558.80 526.50,549.20" fill="#000"/>
<rect x="537.60" y="465.90" width="84.10" height="108.60" rx="5" fill="#d5e0f2" stroke="#4a70ae" stroke-width="3.4"/>
<polygon points="544.6,470 576,478 576,513 544.6,519.5" fill="#e9eff8" stroke="#4a70ae" stroke-width="3.2" stroke-linejoin="miter"/>
<polygon points="583.3,478 615,470 615,519.5 583.3,513" fill="#e9eff8" stroke="#4a70ae" stroke-width="3.2" stroke-linejoin="miter"/>
<text x="579.60" y="547.60" font-size="19.00" font-style="normal" font-weight="normal" font-family="Liberation Serif" fill="#000" text-anchor="middle">Diffusion</text>
<text x="579.60" y="570.00" font-size="19.00" font-style="normal" font-weight="normal" font-family="Liberation Serif" fill="#000" text-anchor="middle">Model</text>
<line x1="623.40" y1="495.80" x2="636.70" y2="495.80" stroke="#000" stroke-width="2.7"/>
<polygon points="641.20,495.80 632.20,500.60 632.20,491.00" fill="#000"/>
<text transform="translate(645.30,501.50) scale(1.217,1)" font-size="26.00" font-style="italic" font-weight="normal" font-family="Liberation Serif" fill="#000">z</text>
<text transform="translate(657.62,507.74) scale(1.217,1)" font-size="18.20" font-style="italic" font-weight="normal" font-family="Liberation Serif" fill="#000">a</text>
<text transform="translate(668.69,512.11) scale(1.217,1)" font-size="12.74" font-style="italic" font-weight="normal" font-family="Liberation Serif" fill="#000">i</text>
<line x1="673.80" y1="495.80" x2="777.50" y2="495.80" stroke="#000" stroke-width="2.7"/>
<polygon points="782.00,495.80 773.00,500.60 773.00,491.00" fill="#000"/>
<text x="666.00" y="484.60" font-size="17.50" font-style="normal" font-weight="normal" font-family="Liberation Serif" fill="#000">K-Means Cluster</text>
<line x1="658.30" y1="509.60" x2="658.30" y2="529.50" stroke="#000" stroke-width="2.7"/>
<polygon points="658.30,534.00 653.50,525.00 663.10,525.00" fill="#000"/>
<rect x="639.70" y="535.90" width="76.50" height="31.70" rx="4" fill="#fff" stroke="#4a70ae" stroke-width="3.4"/>
<text x="677.70" y="560.60" font-size="25.00" font-style="normal" font-weight="normal" font-family="Liberation Serif" fill="#000" text-anchor="middle">MLP</text>
<line x1="718.80" y1="541.00" x2="733.80" y2="541.00" stroke="#000" stroke-width="2.7"/>
<polygon points="738.30,541.00 729.30,545.80 729.30,536.20" fill="#000"/>
<line x1="718.80" y1="562.00" x2="733.80" y2="562.00" stroke="#000" stroke-width="2.7"/>
<polygon points="738.30,562.00 729.30,566.80 729.30,557.20" fill="#000"/>
<text transform="translate(746.40,546.00) scale(0.969,1)" font-size="25.00" font-style="italic" font-weight="normal" font-family="Liberation Serif" fill="#000">õ</text>
<text transform="translate(758.51,552.00) scale(0.969,1)" font-size="17.50" font-style="italic" font-weight="normal" font-family="Liberation Serif" fill="#000">t</text>
<text transform="translate(758.51,540.00) scale(0.969,1)" font-size="24.50" font-style="normal" font-weight="normal" font-family="Liberation Serif" fill="#000">′</text>
<text transform="translate(746.40,572.00) scale(1.186,1)" font-size="25.00" font-style="italic" font-weight="normal" font-family="Liberation Serif" fill="#000">r̃</text>
<text transform="translate(757.94,578.00) scale(1.186,1)" font-size="17.50" font-style="italic" font-weight="normal" font-family="Liberation Serif" fill="#000">t</text>
<path d="M802,477.5 H795 Q791.6,477.5 791.6,481 V515 Q791.6,518.8 781,518.8 Q791.6,518.8 791.6,522.5 V556.5 Q791.6,560 795,560 H802" fill="none" stroke="#000" stroke-width="2.4"/>
<path d="M1025,477.5 H1031 Q1034.4,477.5 1034.4,481 V515 Q1034.4,518.8 1046,518.8 Q1034.4,518.8 1034.4,522.5 V556.5 Q1034.4,560 1031,560 H1025" fill="none" stroke="#000" stroke-width="2.4"/>
<circle cx="848.6" cy="522.2" r="44.3" fill="none" stroke="#4a70ae" stroke-width="3.3" stroke-dasharray="10.5,6.9"/>
<circle cx="978.3" cy="519.6" r="44.3" fill="none" stroke="#a9c79a" stroke-width="3.8" stroke-dasharray="12,7.8"/>
<polygon points="822.2,513.6 838.8,513.6 830.5,558.5" fill="#d6e1f3" stroke="#1d2a44" stroke-width="2"/>
<circle cx="830.5" cy="503.2" r="9.3" fill="#d6e1f3" stroke="#000" stroke-width="2"/>
<polygon points="858.5,513.6 874.6,513.6 865.9,557.6" fill="#8eaadc" stroke="#1d2a44" stroke-width="2"/>
<circle cx="866.8" cy="502.9" r="9.3" fill="#8eaadc" stroke="#000" stroke-width="2"/>
<polygon points="842.2,506.7 857.8,506.7 849.8,551.6" fill="#4472c4" stroke="#1d2a44" stroke-width="2"/>
<circle cx="849.8" cy="496.6" r="9.8" fill="#4472c4" stroke="#000" stroke-width="2"/>
<polygon points="980,505.8 996.4,505.8 988.1,550.7" fill="#e2efd9" stroke="#1d2a44" stroke-width="2"/>
<circle cx="988.1" cy="495.4" r="9.3" fill="#e2efd9" stroke="#000" stroke-width="2"/>
<polygon points="960.1,512.7 976.5,512.7 968.4,558.5" fill="#a9d18e" stroke="#1d2a44" stroke-width="2"/>
<circle cx="968.4" cy="502.3" r="9.3" fill="#a9d18e" stroke="#000" stroke-width="2"/>
<circle cx="906.00" cy="518.80" r="1.6" fill="#000"/>
<circle cx="914.50" cy="518.80" r="1.6" fill="#000"/>
<circle cx="923.00" cy="518.80" r="1.6" fill="#000"/>
<line x1="1036.00" y1="519.40" x2="1046.00" y2="519.40" stroke="#000" stroke-width="2.7"/>
<line x1="1051.00" y1="519.40" x2="1062.50" y2="519.40" stroke="#000" stroke-width="2.7"/>
<polygon points="1067.00,519.40 1058.00,524.20 1058.00,514.60" fill="#000"/>
<text transform="translate(1072.50,530.00) scale(1.159,1)" font-size="28.00" font-style="italic" font-weight="normal" font-family="Liberation Serif" fill="#000">ϕ</text>
<text transform="translate(1089.29,517.40) scale(1.159,1)" font-size="19.60" font-style="italic" font-weight="normal" font-family="Liberation Serif" fill="#000">j</text>
<line x1="1097.20" y1="519.40" x2="1214.70" y2="519.40" stroke="#000" stroke-width="2.7"/>
<polygon points="1219.20,519.40 1210.20,524.20 1210.20,514.60" fill="#000"/>
<text x="1115.70" y="484.50" font-size="17.50" font-style="normal" font-weight="normal" font-family="Liberation Serif" fill="#000" text-anchor="middle">1</text>
<line x1="1099.50" y1="491.40" x2="1131.00" y2="491.40" stroke="#000" stroke-width="1.1"/>
<text transform="translate(1100.00,511.00) scale(1.300,1)" font-size="19.50" font-style="normal" font-weight="normal" font-family="Liberation Serif" fill="#000">|</text>
<text transform="translate(1105.16,511.00) scale(1.300,1)" font-size="19.50" font-style="italic" font-weight="normal" font-family="Liberation Serif" fill="#000">A</text>
<text transform="translate(1120.91,515.68) scale(1.300,1)" font-size="13.65" font-style="italic" font-weight="normal" font-family="Liberation Serif" fill="#000">j</text>
<text transform="translate(1125.92,511.00) scale(1.300,1)" font-size="19.50" font-style="normal" font-weight="normal" font-family="Liberation Serif" fill="#000">|</text>
<text transform="translate(1134.00,496.50) scale(1.259,1)" font-size="18.50" font-style="normal" font-weight="normal" font-family="Liberation Serif" fill="#000">Σ</text>
<text transform="translate(1147.56,500.94) scale(1.259,1)" font-size="12.95" font-style="italic" font-weight="normal" font-family="Liberation Serif" fill="#000">a</text>
<text transform="translate(1155.71,495.11) scale(1.259,1)" font-size="9.06" font-style="italic" font-weight="normal" font-family="Liberation Serif" fill="#000">m</text>
<text transform="translate(1163.95,500.94) scale(1.259,1)" font-size="12.95" font-style="normal" font-weight="normal" font-family="Liberation Serif" fill="#000">∈</text>
<text transform="translate(1176.63,500.94) scale(1.259,1)" font-size="12.95" font-style="italic" font-weight="normal" font-family="Liberation Serif" fill="#000">A</text>
<text transform="translate(1186.59,504.05) scale(1.259,1)" font-size="9.06" font-style="italic" font-weight="normal" font-family="Liberation Serif" fill="#000">j</text>
<text transform="translate(1193.54,496.50) scale(1.259,1)" font-size="18.50" font-style="italic" font-weight="normal" font-family="Liberation Serif" fill="#000">z</text>
<text transform="translate(1202.61,500.94) scale(1.259,1)" font-size="12.95" font-style="italic" font-weight="normal" font-family="Liberation Serif" fill="#000">a</text>
<text transform="translate(1210.76,495.11) scale(1.259,1)" font-size="9.06" font-style="italic" font-weight="normal" font-family="Liberation Serif" fill="#000">m</text>
<text transform="translate(1223.00,526.00) scale(1.235,1)" font-size="26.00" font-style="italic" font-weight="normal" font-family="Liberation Serif" fill="#000">z</text>
<text transform="translate(1235.50,532.24) scale(1.235,1)" font-size="18.20" font-style="italic" font-weight="normal" font-family="Liberation Serif" fill="#000">ϕ</text>
<text transform="translate(1247.13,524.05) scale(1.235,1)" font-size="12.74" font-style="italic" font-weight="normal" font-family="Liberation Serif" fill="#000">j</text>
<line x1="291.5" y1="110" x2="382" y2="250" stroke="#6e5c26" stroke-width="3" stroke-dasharray="9,6"/>
<line x1="292.5" y1="369" x2="382" y2="294.5" stroke="#6e5c26" stroke-width="3" stroke-dasharray="9,6"/>
<line x1="301" y1="425.5" x2="382" y2="369.5" stroke="#506e40" stroke-width="3" stroke-dasharray="9,6"/>
<line x1="300" y1="541" x2="383" y2="410" stroke="#506e40" stroke-width="3" stroke-dasharray="9,6"/>
<line x1="1160.4" y1="120.3" x2="1250" y2="90.4" stroke="#5d3a86" stroke-width="2.8" stroke-dasharray="9,6"/>
<line x1="1160" y1="163" x2="1248" y2="500" stroke="#5d3a86" stroke-width="2.8" stroke-dasharray="9,6"/>
<text x="55.70" y="617.00" font-size="29.00" font-style="normal" font-weight="normal" font-family="Liberation Serif" fill="#000">Figure</text>
<text x="144.09" y="617.00" font-size="29.00" font-style="normal" font-weight="normal" font-family="Liberation Serif" fill="#000">1:</text>
<text x="179.32" y="617.00" font-size="29.00" font-style="normal" font-weight="normal" font-family="Liberation Serif" fill="#000">The</text>
<text x="237.08" y="617.00" font-size="29.00" font-style="normal" font-weight="normal" font-family="Liberation Serif" fill="#000">overall</text>
<text x="330.26" y="617.00" font-size="29.00" font-style="normal" font-weight="normal" font-family="Liberation Serif" fill="#000">framework</text>
<text x="470.15" y="617.00" font-size="29.00" font-style="normal" font-weight="normal" font-family="Liberation Serif" fill="#000">of</text>
<text x="506.98" y="617.00" font-size="29.00" font-style="normal" font-weight="normal" font-family="Liberation Serif" fill="#000">CD</text>
<text x="547.27" y="603.95" font-size="20.30" font-style="normal" font-weight="normal" font-family="Liberation Serif" fill="#000">3</text>
<text x="556.42" y="617.00" font-size="29.00" font-style="normal" font-weight="normal" font-family="Liberation Serif" fill="#000">T.</text>
<text x="591.90" y="617.00" font-size="29.00" font-style="normal" font-weight="normal" font-family="Liberation Serif" fill="#000">We</text>
<text x="642.50" y="617.00" font-size="29.00" font-style="normal" font-weight="normal" font-family="Liberation Serif" fill="#000">first</text>
<text x="701.88" y="617.00" font-size="29.00" font-style="normal" font-weight="normal" font-family="Liberation Serif" fill="#000">derive</text>
<text x="787.01" y="617.00" font-size="29.00" font-style="normal" font-weight="normal" font-family="Liberation Serif" fill="#000">a</text>
<text x="812.56" y="617.00" font-size="29.00" font-style="normal" font-weight="normal" font-family="Liberation Serif" fill="#000">latent</text>
<text x="889.65" y="617.00" font-size="29.00" font-style="normal" font-weight="normal" font-family="Liberation Serif" fill="#000">action</text>
<text x="973.17" y="617.00" font-size="29.00" font-style="normal" font-weight="normal" font-family="Liberation Serif" fill="#000">representation</text>
<text transform="translate(1150.11,617.00) scale(1.300,1)" font-size="29.00" font-style="italic" font-weight="normal" font-family="Liberation Serif" fill="#000">z</text>
<text transform="translate(1165.83,623.96) scale(1.300,1)" font-size="20.30" font-style="italic" font-weight="normal" font-family="Liberation Serif" fill="#000">a</text>
<text transform="translate(1179.97,628.83) scale(1.300,1)" font-size="14.21" font-style="italic" font-weight="normal" font-family="Liberation Serif" fill="#000">i</text>
<text x="1197.78" y="617.00" font-size="29.00" font-style="normal" font-weight="normal" font-family="Liberation Serif" fill="#000">for</text>
<text x="1244.27" y="617.00" font-size="29.00" font-style="normal" font-weight="normal" font-family="Liberation Serif" fill="#000">each</text>
<text x="1310.05" y="617.00" font-size="29.00" font-style="normal" font-weight="normal" font-family="Liberation Serif" fill="#000">agent</text>
<text x="1385.53" y="617.00" font-size="29.00" font-style="normal" font-weight="normal" font-family="Liberation Serif" fill="#000">from</text>
<text x="1454.57" y="617.00" font-size="29.00" font-style="normal" font-weight="normal" font-family="Liberation Serif" fill="#000">its</text>
<text x="1494.64" y="617.00" font-size="29.00" font-style="normal" font-weight="normal" font-family="Liberation Serif" fill="#000">action</text>
<text x="55.70" y="649.70" font-size="29.00" font-style="normal" font-weight="normal" font-family="Liberation Serif" fill="#000">space,</text>
<text x="140.42" y="649.70" font-size="29.00" font-style="normal" font-weight="normal" font-family="Liberation Serif" fill="#000">conditioned</text>
<text x="290.40" y="649.70" font-size="29.00" font-style="normal" font-weight="normal" font-family="Liberation Serif" fill="#000">on</text>
<text x="332.47" y="649.70" font-size="29.00" font-style="normal" font-weight="normal" font-family="Liberation Serif" fill="#000">its</text>
<text x="372.94" y="649.70" font-size="29.00" font-style="normal" font-weight="normal" font-family="Liberation Serif" fill="#000">local</text>
<text x="442.37" y="649.70" font-size="29.00" font-style="normal" font-weight="normal" font-family="Liberation Serif" fill="#000">observation</text>
<text transform="translate(590.74,649.70) scale(1.162,1)" font-size="29.00" font-style="italic" font-weight="normal" font-family="Liberation Serif" fill="#000">o</text>
<text transform="translate(607.59,656.66) scale(1.162,1)" font-size="20.30" font-style="italic" font-weight="normal" font-family="Liberation Serif" fill="#000">i</text>
<text x="627.21" y="649.70" font-size="29.00" font-style="normal" font-weight="normal" font-family="Liberation Serif" fill="#000">and</text>
<text x="682.15" y="649.70" font-size="29.00" font-style="normal" font-weight="normal" font-family="Liberation Serif" fill="#000">other</text>
<text x="754.80" y="649.70" font-size="29.00" font-style="normal" font-weight="normal" font-family="Liberation Serif" fill="#000">agents’</text>
<text x="851.62" y="649.70" font-size="29.00" font-style="normal" font-weight="normal" font-family="Liberation Serif" fill="#000">one-hot</text>
<text x="953.27" y="649.70" font-size="29.00" font-style="normal" font-weight="normal" font-family="Liberation Serif" fill="#000">actions</text>
<text transform="translate(1048.48,649.70) scale(1.300,1)" font-size="29.00" font-style="italic" font-weight="bold" font-family="Liberation Serif" fill="#000">a</text>
<text transform="translate(1068.01,656.66) scale(1.300,1)" font-size="20.30" font-style="italic" font-weight="normal" font-family="Liberation Serif" fill="#000">−i</text>
<text transform="translate(1094.06,649.70) scale(1.300,1)" font-size="29.00" font-style="normal" font-weight="normal" font-family="Liberation Serif" fill="#000">,</text>
<text x="1116.55" y="649.70" font-size="29.00" font-style="normal" font-weight="normal" font-family="Liberation Serif" fill="#000">to</text>
<text x="1152.18" y="649.70" font-size="29.00" font-style="normal" font-weight="normal" font-family="Liberation Serif" fill="#000">pretrain</text>
<text x="1255.42" y="649.70" font-size="29.00" font-style="normal" font-weight="normal" font-family="Liberation Serif" fill="#000">a</text>
<text x="1281.36" y="649.70" font-size="29.00" font-style="normal" font-weight="normal" font-family="Liberation Serif" fill="#000">diffusion</text>
<text x="1398.62" y="649.70" font-size="29.00" font-style="normal" font-weight="normal" font-family="Liberation Serif" fill="#000">model.</text>
<text x="1491.43" y="649.70" font-size="29.00" font-style="normal" font-weight="normal" font-family="Liberation Serif" fill="#000">Latent</text>
<text x="55.70" y="682.40" font-size="29.00" font-style="normal" font-weight="normal" font-family="Liberation Serif" fill="#000">representations</text>
<text x="243.02" y="682.40" font-size="29.00" font-style="normal" font-weight="normal" font-family="Liberation Serif" fill="#000">are</text>
<text x="290.19" y="682.40" font-size="29.00" font-style="normal" font-weight="normal" font-family="Liberation Serif" fill="#000">then</text>
<text x="351.90" y="682.40" font-size="29.00" font-style="normal" font-weight="normal" font-family="Liberation Serif" fill="#000">clustered</text>
<text x="468.34" y="682.40" font-size="29.00" font-style="normal" font-weight="normal" font-family="Liberation Serif" fill="#000">to</text>
<text x="502.67" y="682.40" font-size="29.00" font-style="normal" font-weight="normal" font-family="Liberation Serif" fill="#000">define</text>
<text x="586.91" y="682.40" font-size="29.00" font-style="normal" font-weight="normal" font-family="Liberation Serif" fill="#000">subtask-specific</text>
<text x="785.51" y="682.40" font-size="29.00" font-style="normal" font-weight="normal" font-family="Liberation Serif" fill="#000">action</text>
<text x="868.14" y="682.40" font-size="29.00" font-style="normal" font-weight="normal" font-family="Liberation Serif" fill="#000">spaces.</text>
<text x="962.85" y="682.40" font-size="29.00" font-style="normal" font-weight="normal" font-family="Liberation Serif" fill="#000">The</text>
<text x="1019.71" y="682.40" font-size="29.00" font-style="normal" font-weight="normal" font-family="Liberation Serif" fill="#000">subtask</text>
<text x="1118.48" y="682.40" font-size="29.00" font-style="normal" font-weight="normal" font-family="Liberation Serif" fill="#000">selector</text>
<text x="1220.43" y="682.40" font-size="29.00" font-style="normal" font-weight="normal" font-family="Liberation Serif" fill="#000">and</text>
<text x="1274.08" y="682.40" font-size="29.00" font-style="normal" font-weight="normal" font-family="Liberation Serif" fill="#000">subtask</text>
<text x="1372.85" y="682.40" font-size="29.00" font-style="normal" font-weight="normal" font-family="Liberation Serif" fill="#000">policy</text>
<text x="1457.11" y="682.40" font-size="29.00" font-style="normal" font-weight="normal" font-family="Liberation Serif" fill="#000">share</text>
<text x="1530.07" y="682.40" font-size="29.00" font-style="normal" font-weight="normal" font-family="Liberation Serif" fill="#000">the</text>
<text x="55.70" y="715.10" font-size="29.00" font-style="normal" font-weight="normal" font-family="Liberation Serif" fill="#000">same</text>
<text x="125.90" y="715.10" font-size="29.00" font-style="normal" font-weight="normal" font-family="Liberation Serif" fill="#000">architecture</text>
<text x="273.36" y="715.10" font-size="29.00" font-style="normal" font-weight="normal" font-family="Liberation Serif" fill="#000">with</text>
<text x="335.53" y="715.10" font-size="29.00" font-style="normal" font-weight="normal" font-family="Liberation Serif" fill="#000">different</text>
<text x="445.45" y="715.10" font-size="29.00" font-style="normal" font-weight="normal" font-family="Liberation Serif" fill="#000">parameters.</text>
<text x="590.52" y="715.10" font-size="29.00" font-style="normal" font-weight="normal" font-family="Liberation Serif" fill="#000">At</text>
<text x="630.13" y="715.10" font-size="29.00" font-style="normal" font-weight="normal" font-family="Liberation Serif" fill="#000">every</text>
<text x="705.15" y="715.10" font-size="29.00" font-style="normal" font-weight="normal" font-family="Liberation Serif" fill="#000">Δ</text>
<text x="723.80" y="715.10" font-size="29.00" font-style="italic" font-weight="normal" font-family="Liberation Serif" fill="#000">T</text>
<text x="750.54" y="715.10" font-size="29.00" font-style="normal" font-weight="normal" font-family="Liberation Serif" fill="#000">steps,</text>
<text x="826.41" y="715.10" font-size="29.00" font-style="normal" font-weight="normal" font-family="Liberation Serif" fill="#000">the</text>
<text x="872.45" y="715.10" font-size="29.00" font-style="normal" font-weight="normal" font-family="Liberation Serif" fill="#000">selector</text>
<text x="973.24" y="715.10" font-size="29.00" font-style="normal" font-weight="normal" font-family="Liberation Serif" fill="#000">assigns</text>
<text x="1067.64" y="715.10" font-size="29.00" font-style="normal" font-weight="normal" font-family="Liberation Serif" fill="#000">a</text>
<text x="1091.12" y="715.10" font-size="29.00" font-style="normal" font-weight="normal" font-family="Liberation Serif" fill="#000">subtask</text>
<text x="1188.74" y="715.10" font-size="29.00" font-style="normal" font-weight="normal" font-family="Liberation Serif" fill="#000">to</text>
<text x="1221.91" y="715.10" font-size="29.00" font-style="normal" font-weight="normal" font-family="Liberation Serif" fill="#000">each</text>
<text x="1285.64" y="715.10" font-size="29.00" font-style="normal" font-weight="normal" font-family="Liberation Serif" fill="#000">agent</text>
<text x="1359.06" y="715.10" font-size="29.00" font-style="normal" font-weight="normal" font-family="Liberation Serif" fill="#000">and</text>
<text x="1411.54" y="715.10" font-size="29.00" font-style="normal" font-weight="normal" font-family="Liberation Serif" fill="#000">estimates</text>
<text x="1530.07" y="715.10" font-size="29.00" font-style="normal" font-weight="normal" font-family="Liberation Serif" fill="#000">the</text>
<text x="55.70" y="747.80" font-size="29.00" font-style="normal" font-weight="normal" font-family="Liberation Serif" fill="#000">joint</text>
<text x="119.22" y="747.80" font-size="29.00" font-style="normal" font-weight="normal" font-family="Liberation Serif" fill="#000">Q-value</text>
<text x="222.97" y="747.80" font-size="29.00" font-style="italic" font-weight="normal" font-family="Liberation Serif" fill="#000">Q</text>
<text x="243.91" y="754.76" font-size="20.30" font-style="italic" font-weight="normal" font-family="Liberation Serif" fill="#000">tot</text>
<text x="243.91" y="734.75" font-size="20.30" font-style="normal" font-weight="normal" font-family="Liberation Serif" fill="#000">Φ</text>
<text x="275.69" y="747.80" font-size="29.00" font-style="normal" font-weight="normal" font-family="Liberation Serif" fill="#000">using</text>
<text x="348.88" y="747.80" font-size="29.00" font-style="normal" font-weight="normal" font-family="Liberation Serif" fill="#000">the</text>
<text x="394.66" y="747.80" font-size="29.00" font-style="normal" font-weight="normal" font-family="Liberation Serif" fill="#000">global</text>
<text x="477.50" y="747.80" font-size="29.00" font-style="normal" font-weight="normal" font-family="Liberation Serif" fill="#000">state</text>
<text x="540.99" y="747.80" font-size="29.00" font-style="italic" font-weight="normal" font-family="Liberation Serif" fill="#000">s</text>
<text x="552.28" y="754.76" font-size="20.30" font-style="italic" font-weight="normal" font-family="Liberation Serif" fill="#000">t</text>
<text x="568.26" y="747.80" font-size="29.00" font-style="normal" font-weight="normal" font-family="Liberation Serif" fill="#000">and</text>
<text x="620.49" y="747.80" font-size="29.00" font-style="normal" font-weight="normal" font-family="Liberation Serif" fill="#000">subtask</text>
<text x="717.83" y="747.80" font-size="29.00" font-style="normal" font-weight="normal" font-family="Liberation Serif" fill="#000">representation</text>
<text transform="translate(892.44,747.80) scale(1.300,1)" font-size="29.00" font-style="italic" font-weight="bold" font-family="Liberation Serif" fill="#000">z</text>
<text transform="translate(908.28,754.76) scale(1.300,1)" font-size="20.30" font-style="italic" font-weight="normal" font-family="Liberation Serif" fill="#000">ϕ</text>
<text transform="translate(923.02,747.80) scale(1.300,1)" font-size="29.00" font-style="normal" font-weight="normal" font-family="Liberation Serif" fill="#000">,</text>
<text x="942.79" y="747.80" font-size="29.00" font-style="normal" font-weight="normal" font-family="Liberation Serif" fill="#000">while</text>
<text x="1017.57" y="747.80" font-size="29.00" font-style="normal" font-weight="normal" font-family="Liberation Serif" fill="#000">the</text>
<text x="1063.35" y="747.80" font-size="29.00" font-style="normal" font-weight="normal" font-family="Liberation Serif" fill="#000">subtask</text>
<text x="1160.70" y="747.80" font-size="29.00" font-style="normal" font-weight="normal" font-family="Liberation Serif" fill="#000">policy</text>
<text x="1243.53" y="747.80" font-size="29.00" font-style="normal" font-weight="normal" font-family="Liberation Serif" fill="#000">computes</text>
<text transform="translate(1365.02,747.80) scale(1.263,1)" font-size="29.00" font-style="italic" font-weight="normal" font-family="Liberation Serif" fill="#000">Q</text>
<text transform="translate(1391.47,754.76) scale(1.263,1)" font-size="20.30" font-style="italic" font-weight="normal" font-family="Liberation Serif" fill="#000">tot</text>
<text x="1428.87" y="747.80" font-size="29.00" font-style="normal" font-weight="normal" font-family="Liberation Serif" fill="#000">with</text>
<text transform="translate(1490.78,747.80) scale(1.300,1)" font-size="29.00" font-style="italic" font-weight="normal" font-family="Liberation Serif" fill="#000">s</text>
<text transform="translate(1505.95,754.76) scale(1.300,1)" font-size="20.30" font-style="italic" font-weight="normal" font-family="Liberation Serif" fill="#000">t</text>
<text x="1523.63" y="747.80" font-size="29.00" font-style="normal" font-weight="normal" font-family="Liberation Serif" fill="#000">and</text>
<text x="55.70" y="780.50" font-size="29.00" font-style="normal" font-weight="normal" font-family="Liberation Serif" fill="#000">the</text>
<text x="98.38" y="780.50" font-size="29.00" font-style="normal" font-weight="normal" font-family="Liberation Serif" fill="#000">action</text>
<text x="176.49" y="780.50" font-size="29.00" font-style="normal" font-weight="normal" font-family="Liberation Serif" fill="#000">representation</text>
<text x="347.99" y="780.50" font-size="29.00" font-style="italic" font-weight="bold" font-family="Liberation Serif" fill="#000">z</text>
<text x="359.28" y="787.46" font-size="20.30" font-style="italic" font-weight="normal" font-family="Liberation Serif" fill="#000">a</text>
<text x="369.43" y="780.50" font-size="29.00" font-style="normal" font-weight="normal" font-family="Liberation Serif" fill="#000">.</text>
<text x="103.00" y="837.00" font-size="29.00" font-style="normal" font-weight="normal" font-family="Liberation Serif" fill="#000">i</text>
<text x="171.00" y="837.00" font-size="29.00" font-style="normal" font-weight="normal" font-family="Liberation Serif" fill="#000">f</text>
<text x="232.00" y="837.00" font-size="29.00" font-style="normal" font-weight="normal" font-family="Liberation Serif" fill="#000">H</text>
<text x="350.00" y="837.00" font-size="29.00" font-style="normal" font-weight="normal" font-family="Liberation Serif" fill="#000">l</text>
<text x="449.00" y="837.00" font-size="29.00" font-style="normal" font-weight="normal" font-family="Liberation Serif" fill="#000">h</text>
<text x="499.00" y="837.00" font-size="29.00" font-style="normal" font-weight="normal" font-family="Liberation Serif" fill="#000">h</text>
<text x="585.00" y="837.00" font-size="29.00" font-style="normal" font-weight="normal" font-family="Liberation Serif" fill="#000">d</text>
<text x="609.00" y="837.00" font-size="29.00" font-style="normal" font-weight="normal" font-family="Liberation Serif" fill="#000">l</text>
<text x="651.00" y="837.00" font-size="29.00" font-style="normal" font-weight="normal" font-family="Liberation Serif" fill="#000">f</text>
<text x="745.00" y="837.00" font-size="29.00" font-style="normal" font-weight="normal" font-family="Liberation Serif" fill="#000">t</text>
<text x="757.00" y="837.00" font-size="29.00" font-style="normal" font-weight="normal" font-family="Liberation Serif" fill="#000">(</text>
<text x="852.00" y="835.00" font-size="32.00" font-style="normal" font-weight="bold" font-family="Liberation Serif" fill="#000">Subtask Dynamic Decomposition</text>
</svg></body></html>
